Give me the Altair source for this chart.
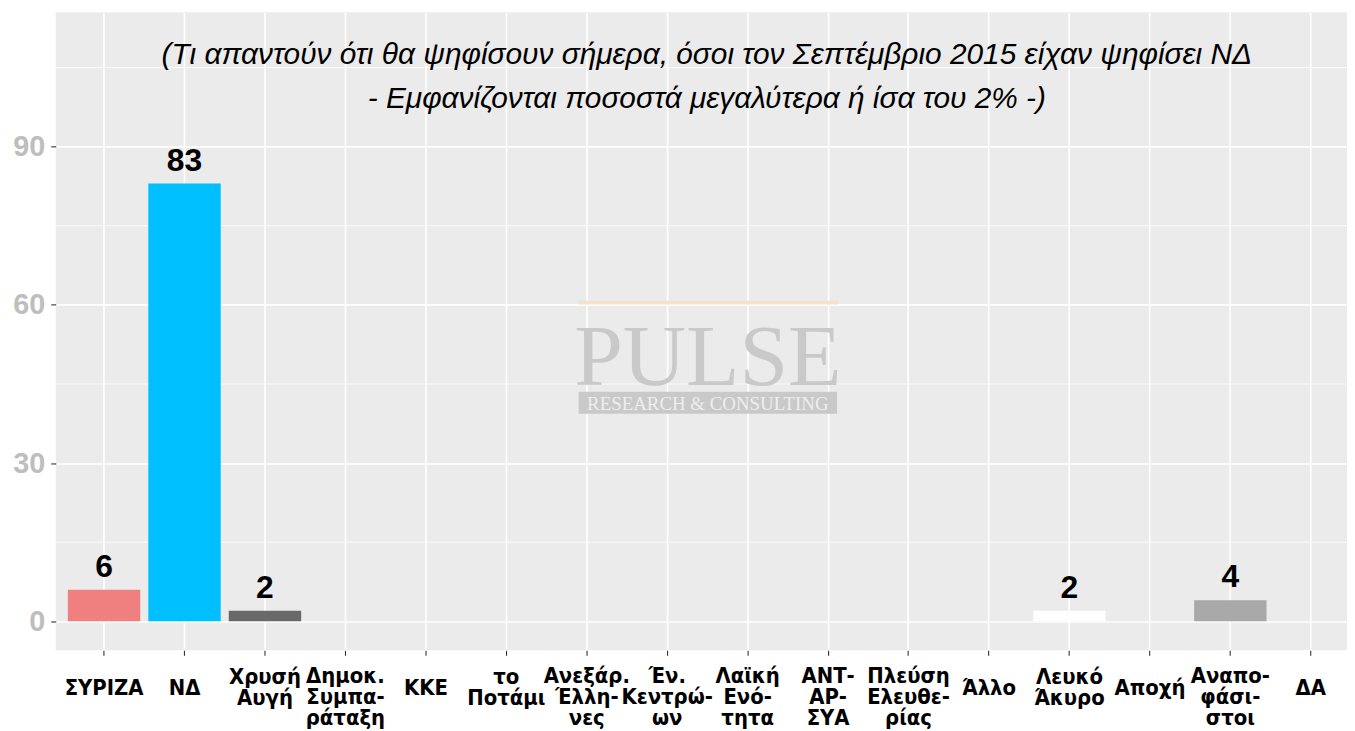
import altair as alt
import pandas as pd

categories = ["ΣΥΡΙΖΑ", "ΝΔ", "Χρυσή|Αυγή", "Δημοκ.|Συμπα-|ράταξη", "ΚΚΕ", "το|Ποτάμι",
              "Ανεξάρ.|Έλλη-|νες", "Έν.|Κεντρώ-|ων", "Λαϊκή|Ενό-|τητα", "ΑΝΤ-|ΑΡ-|ΣΥΑ",
              "Πλεύση|Ελευθε-|ρίας", "Άλλο", "Λευκό|Άκυρο", "Αποχή", "Αναπο-|φάσι-|στοι", "ΔΑ"]
values = [6, 83, 2, 0, 0, 0, 0, 0, 0, 0, 0, 0, 2, 0, 4, 0]
colors = ["#F08080", "#00BFFF", "#696969", "#5F9EA0", "#DC143C", "#4682B4",
          "#87CEEB", "#6B8E23", "#B22222", "#8B0000", "#CD5C5C", "#808080",
          "#FFFFFF", "#D3D3D3", "#A9A9A9", "#C0C0C0"]
y_ticks = [0, 30, 60, 90]
minor_grid = [15, 45, 75, 105]
subtitle = ("(Τι απαντούν ότι θα ψηφίσουν σήμερα, όσοι τον Σεπτέμβριο 2015 είχαν ψηφίσει ΝΔ\n"
            "- Εμφανίζονται ποσοστά μεγαλύτερα ή ίσα του 2% -)")

df = pd.DataFrame({"cat": categories, "value": values})

W, H = 1299, 642
yscale = alt.Scale(domain=[-5.5, 115.5], zero=False, nice=False)
xscale = alt.Scale(domain=categories, paddingInner=0.1, paddingOuter=0.0755, align=1)

NARROW = "Liberation Sans Narrow, Arial Narrow, DejaVu Sans Condensed, Roboto Condensed, Liberation Sans"
nlines = "length(split(datum.value, '|'))"

x_axis = alt.Axis(title=None, labelExpr="split(datum.label, '|')",
                  labelFont=NARROW, labelFontWeight="bold",
                  labelFontSize=22, labelLineHeight=21.5, labelColor="black",
                  labelBaseline={"condition": [
                      {"test": nlines + " == 2", "value": "line-bottom"},
                      {"test": nlines + " == 3", "value": "bottom"}],
                      "value": "middle"},
                  labelPadding=32, labelAngle=0,
                  labelOverlap=False, labelLimit=300,
                  tickSize=5, tickColor="#333333", tickWidth=1.1,
                  domain=False, grid=True, gridColor="white", gridWidth=1.6)
y_axis = alt.Axis(title=None, values=y_ticks, labelFont="Liberation Sans",
                  labelFontWeight="bold", labelFontSize=29, labelColor="#BEBEBE",
                  labelPadding=6, tickSize=5, tickColor="#333333", tickWidth=1.1,
                  domain=False, grid=True, gridColor="white", gridWidth=1.6)

minor = alt.Chart(pd.DataFrame({"v": minor_grid})).mark_rule(
    color="white", strokeWidth=0.8).encode(y=alt.Y("v:Q", scale=yscale, axis=y_axis))

bars = alt.Chart(df).mark_bar().encode(
    x=alt.X("cat:N", sort=categories, scale=xscale, axis=x_axis),
    y=alt.Y("value:Q", scale=yscale, axis=y_axis),
    color=alt.Color("cat:N", scale=alt.Scale(domain=categories, range=colors), legend=None),
)

labels = alt.Chart(df).transform_filter("datum.value > 0").mark_text(
    font="Liberation Sans", fontSize=32, fontWeight="bold", color="black",
    baseline="alphabetic", dy=-13).encode(
    x=alt.X("cat:N", sort=categories, scale=xscale, axis=x_axis),
    y=alt.Y("value:Q", scale=yscale, axis=y_axis),
    text=alt.Text("value:Q"),
)

one = pd.DataFrame({"t": [subtitle]})
sub = alt.Chart(one).mark_text(
    font="Liberation Sans", fontSize=30, fontStyle="italic", color="black",
    baseline="top", align="center", lineBreak="\n", lineHeight=44).encode(
    x=alt.value(655), y=alt.value(28), text="t:N")

wm_line = alt.Chart(one).mark_rule(color="#F3E3CC", strokeWidth=4).encode(
    x=alt.value(526), x2=alt.value(787), y=alt.value(292))
wm_rect = alt.Chart(one).mark_rect(color="#C9C9C9").encode(
    x=alt.value(526), x2=alt.value(786), y=alt.value(382), y2=alt.value(404))
wm_big = alt.Chart(pd.DataFrame({"t": ["PULSE"]})).mark_text(
    font="Liberation Serif", fontSize=88, color="#C9C9C9", baseline="alphabetic",
    align="center").encode(x=alt.value(656), y=alt.value(375), text="t:N")
wm_small = alt.Chart(pd.DataFrame({"t": ["RESEARCH & CONSULTING"]})).mark_text(
    font="Liberation Serif", fontSize=19, color="#EEEEEE", baseline="alphabetic",
    align="center").encode(x=alt.value(656), y=alt.value(400), text="t:N")

chart = alt.layer(minor, wm_line, wm_rect, wm_big, wm_small, bars, labels, sub).properties(
    width=W, height=H,
    autosize=alt.AutoSizeParams(type="none"),
    padding={"left": 48, "top": 2, "right": 0, "bottom": 79},
    background="white",
).configure_view(fill="#EBEBEB", stroke=None)

chart.save("out.html", embed_options={"renderer": "svg", "actions": False})
